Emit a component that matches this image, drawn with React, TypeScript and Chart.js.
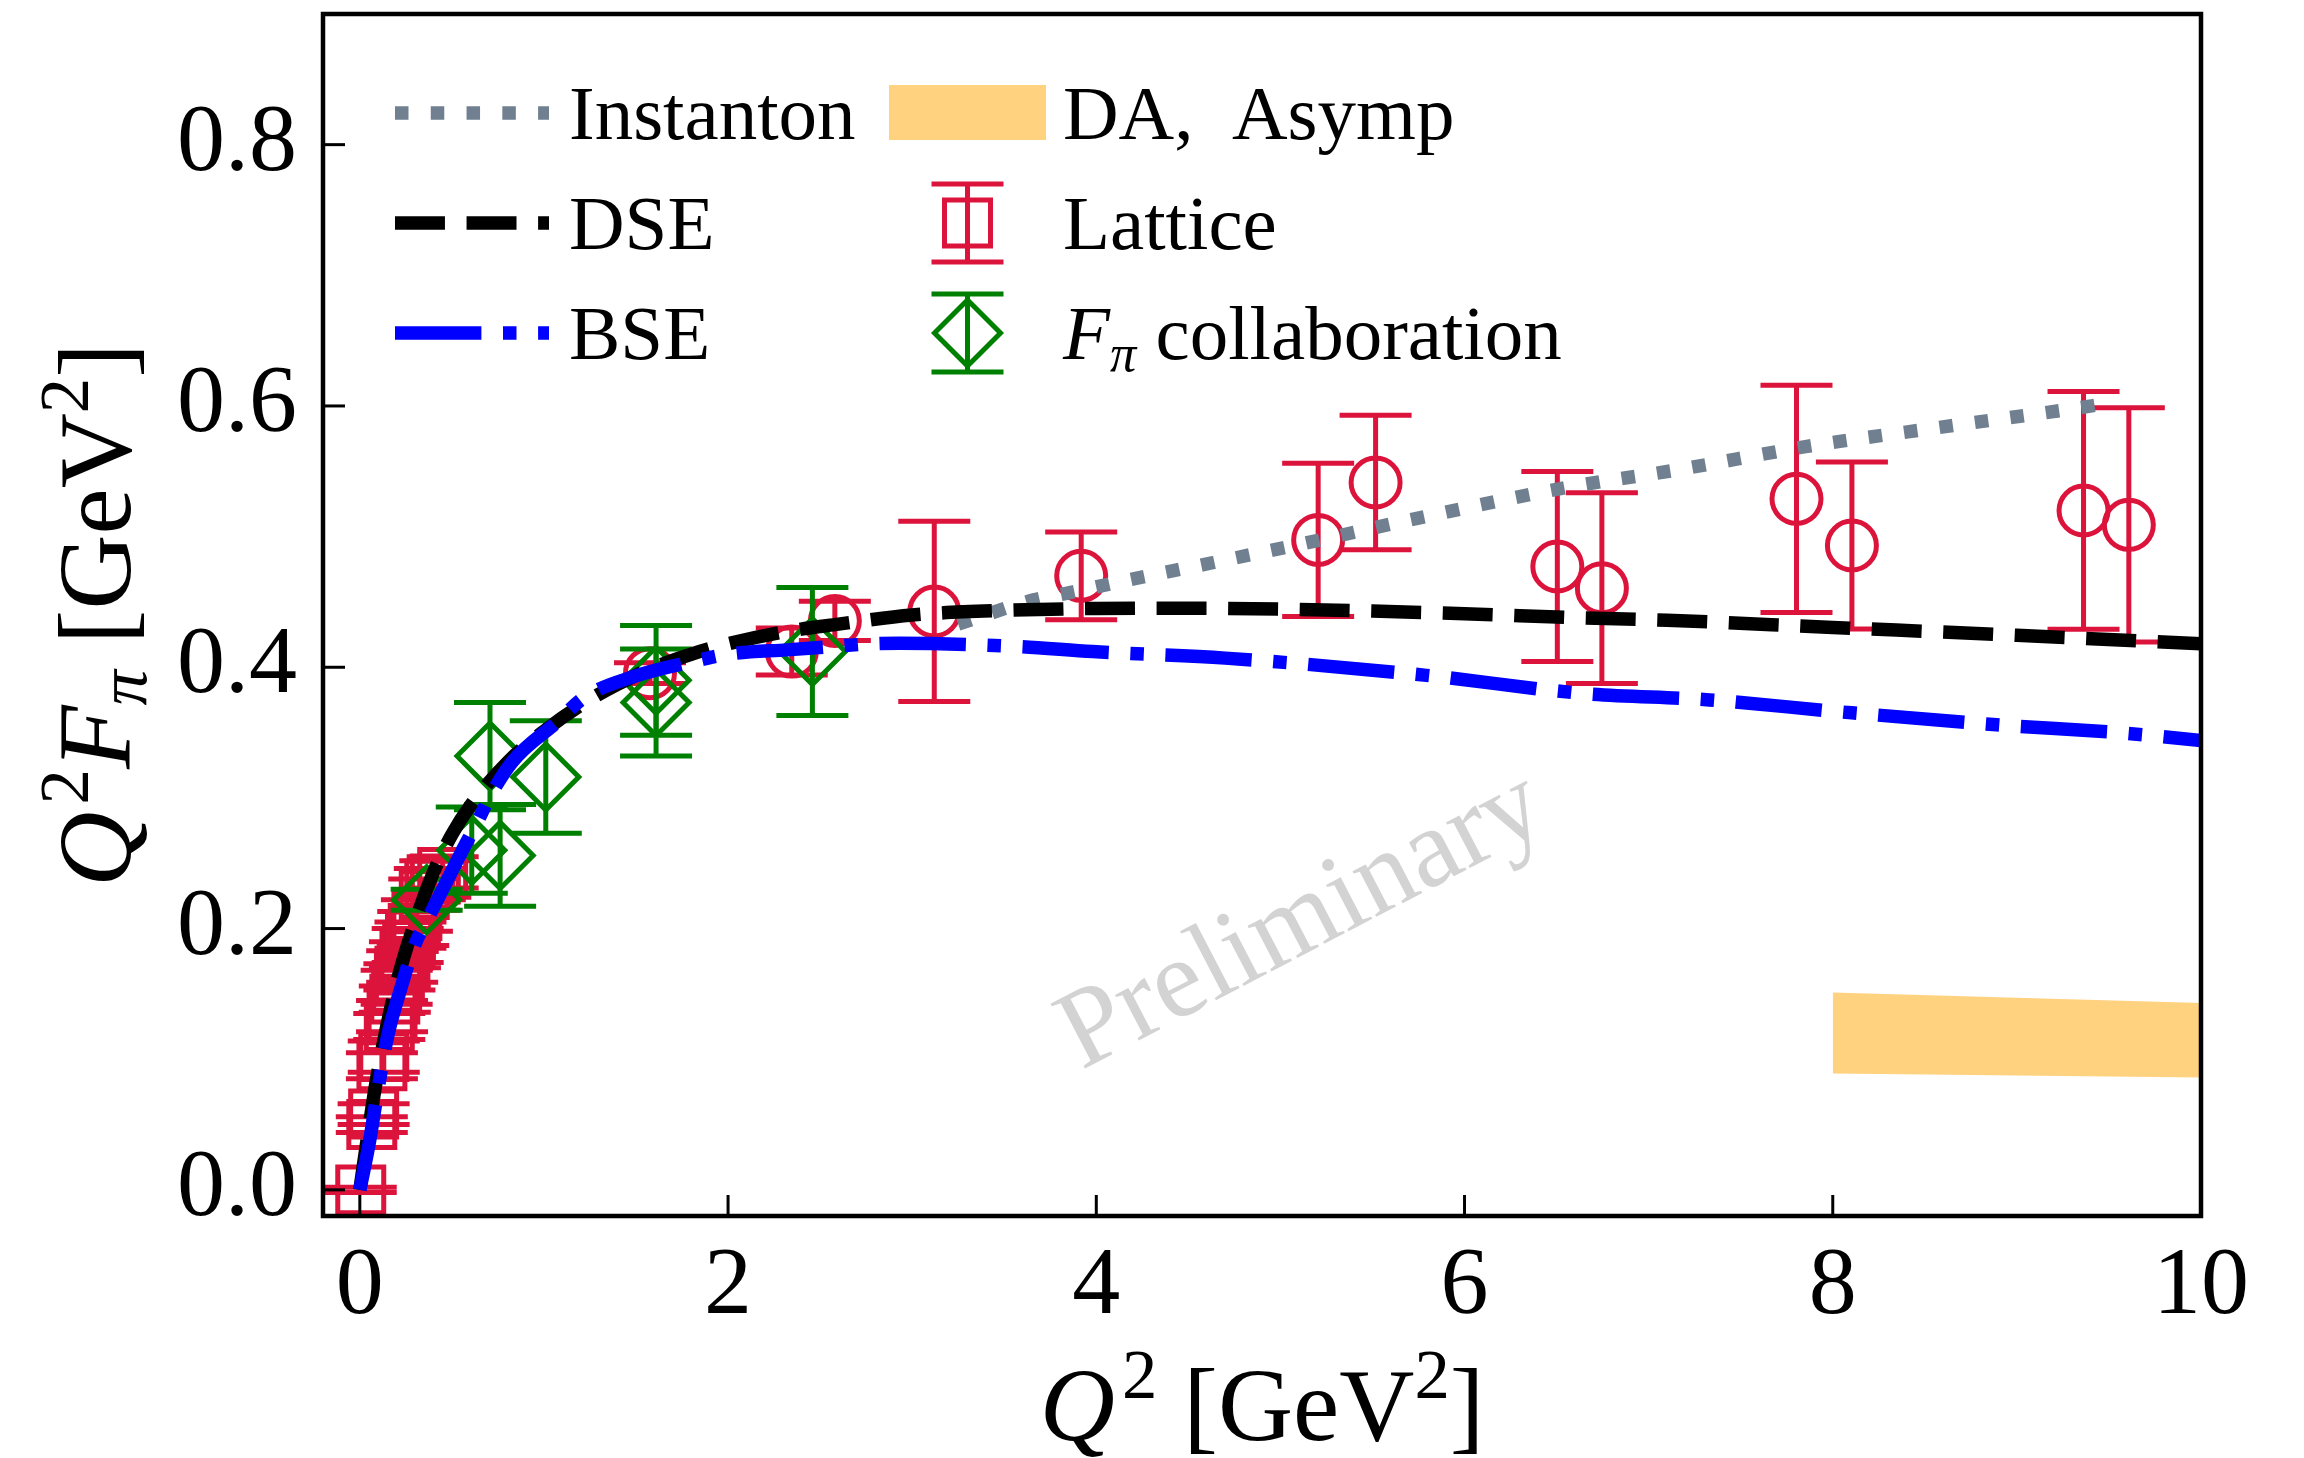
import React, { useEffect, useRef } from 'react';
import { Chart, registerables } from 'chart.js';

Chart.register(...registerables);

const SERIF = '"Liberation Serif", "Times New Roman", serif';

// ---- axes ----
const X_MIN = -0.2;
const X_MAX = 10;
const Y_MIN = -0.02;
const Y_MAX = 0.9;
const xTickValues = [0, 2, 4, 6, 8, 10];
const yTickValues = [0, 0.2, 0.4, 0.6, 0.8];

// ---- DSE curve ----
const dseQ2 = [0, 0.05, 0.1, 0.2, 0.3, 0.4, 0.5, 0.6, 0.8, 1.0, 1.2, 1.4, 1.6, 1.8, 2.0, 2.3, 2.6, 3.0, 3.5, 4.0, 4.5, 5.0, 5.5, 6.0, 6.6, 7.1, 8.0, 9.0, 10.0];
const dseVal = [0, 0.048, 0.092, 0.158, 0.205, 0.243, 0.272, 0.294, 0.327, 0.351, 0.371, 0.387, 0.4, 0.41, 0.418, 0.427, 0.433, 0.44, 0.4435, 0.445, 0.4452, 0.4445, 0.443, 0.441, 0.438, 0.436, 0.4305, 0.4245, 0.418];

// ---- BSE curve ----
const bseQ2 = [0, 0.05, 0.1, 0.15, 0.22, 0.3, 0.36, 0.45, 0.55, 0.64, 0.71, 0.83, 1.07, 1.22, 1.49, 1.85, 2.0, 2.32, 2.93, 3.57, 3.98, 4.7, 5.78, 6.64, 7.33, 8.03, 8.89, 9.59, 10];
const bseVal = [0, 0.035, 0.078, 0.117, 0.153, 0.188, 0.205, 0.23, 0.258, 0.282, 0.302, 0.328, 0.358, 0.377, 0.393, 0.4057, 0.41, 0.4133, 0.4184, 0.4159, 0.412, 0.407, 0.394, 0.38, 0.375, 0.366, 0.356, 0.3495, 0.344];

// ---- Instanton curve ----
const instQ2 = [3.25, 3.66, 3.85, 4.18, 4.63, 5.2, 5.71, 6.57, 7.15, 7.86, 8.6, 9.31, 9.45];
const instVal = [0.433, 0.4516, 0.457, 0.467, 0.48, 0.497, 0.513, 0.538, 0.551, 0.569, 0.584, 0.598, 0.601];

// ---- DA, Asymp band ----
const bandQ2 = [8, 10];
const bandUpper = [0.151, 0.143];
const bandLower = [0.089, 0.086];

// ---- Lattice (small Q^2, squares) ----
const latSqQ2 = [0.005, 0.065, 0.075, 0.12, 0.13, 0.16, 0.175, 0.19, 0.2, 0.215, 0.23, 0.245, 0.26, 0.275, 0.29, 0.31, 0.35, 0.38, 0.41, 0.45];
const latSqVal = [0.0, 0.05, 0.058, 0.095, 0.102, 0.125, 0.133, 0.146, 0.155, 0.163, 0.171, 0.18, 0.187, 0.195, 0.2, 0.21, 0.226, 0.234, 0.238, 0.243];
const latSqErr = [0.002, 0.006, 0.008, 0.01, 0.012, 0.01, 0.012, 0.01, 0.013, 0.01, 0.012, 0.01, 0.013, 0.01, 0.013, 0.012, 0.012, 0.012, 0.014, 0.012];

// ---- Lattice (large Q^2, circles) ----
const latCircQ2 = [1.576, 2.346, 2.58, 3.12, 3.918, 5.205, 5.517, 6.504, 6.746, 7.803, 8.104, 9.362, 9.608];
const latCircVal = [0.3955, 0.412, 0.4355, 0.4427, 0.47, 0.4975, 0.5414, 0.4771, 0.4605, 0.5289, 0.4932, 0.52, 0.509];
const latCircErr = [0.008, 0.018, 0.015, 0.069, 0.0336, 0.0586, 0.0514, 0.0727, 0.073, 0.087, 0.064, 0.091, 0.0897];

// ---- F_pi collaboration ----
const fpiQ2 = [0.363, 0.608, 0.707, 0.762, 1.01, 1.609, 1.609, 2.458];
const fpiVal = [0.222, 0.26, 0.332, 0.256, 0.316, 0.39, 0.373, 0.412];
const fpiErr = [0.008, 0.033, 0.041, 0.039, 0.043, 0.042, 0.041, 0.049];

// ---- watermark ----
const watermarkText = 'Preliminary';
const watermarkQ2 = 5.12;
const watermarkVal = 0.205;

// ---- legend labels ----
const legendInstanton = 'Instanton';
const legendDSE = 'DSE';
const legendBSE = 'BSE';
const legendDA = 'DA,  Asymp';
const legendLattice = 'Lattice';
const legendFpiRest = ' collaboration';

// ---- styles ----
const CRIMSON = '#DC143C';
const GREEN = '#008000';
const SLATE = '#708090';
const BLUE = '#0000FF';
const ORANGE_FILL = 'rgba(255,165,0,0.5)';
const LW = 13.5;
const DASH_DOT = [LW, LW * 1.65];
const DASH = [LW * 3.7, LW * 1.6];
const DASH_DOT_LINE = [LW * 6.4, LW * 1.6, LW, LW * 1.6];
const ERR_LW = 5;
const CAP = 36;
const MARKER_LW = 5;

const pts = (xs: number[], ys: number[]) => xs.map((x, i) => ({ x, y: ys[i] }));

type Run = { t: string; it?: boolean; s?: 'sup' | 'sub'; dx?: number };

function runFont(r: Run, size: number) {
  const sz = r.s ? size * 0.68 : size;
  return `${r.it ? 'italic ' : ''}${sz}px ${SERIF}`;
}
function measureRuns(ctx: CanvasRenderingContext2D, runs: Run[], size: number) {
  let w = 0;
  for (const r of runs) {
    ctx.font = runFont(r, size);
    w += ctx.measureText(r.t).width + (r.dx || 0) * size;
  }
  return w;
}
function drawRuns(ctx: CanvasRenderingContext2D, runs: Run[], size: number, x: number, y: number) {
  let cx = x;
  for (const r of runs) {
    ctx.font = runFont(r, size);
    cx += (r.dx || 0) * size;
    const dy = r.s === 'sup' ? -0.4 * size : r.s === 'sub' ? 0.15 * size : 0;
    ctx.fillText(r.t, cx, y + dy);
    cx += ctx.measureText(r.t).width;
  }
}

const xTitleRuns: Run[] = [{ t: 'Q', it: true }, { t: '2', s: 'sup', dx: 0.07 }, { t: ' [GeV' }, { t: '2', s: 'sup' }, { t: ']' }];
const yTitleRuns: Run[] = [
  { t: 'Q', it: true },
  { t: '2', s: 'sup', dx: 0.07 },
  { t: 'F', it: true },
  { t: 'π', it: true, s: 'sub' },
  { t: ' [GeV' },
  { t: '2', s: 'sup' },
  { t: ']' },
];
const fpiLegendRuns: Run[] = [{ t: 'F', it: true }, { t: 'π', it: true, s: 'sub' }, { t: legendFpiRest }];

const errorBarPlugin = {
  id: 'errbars',
  beforeDatasetDraw(chart: any, args: any) {
    const ds = chart.data.datasets[args.index];
    if (!ds.errors) return;
    const { ctx, chartArea: ca } = chart;
    const xs = chart.scales.x;
    const ys = chart.scales.y;
    ctx.save();
    ctx.beginPath();
    ctx.rect(ca.left, ca.top, ca.right - ca.left, ca.bottom - ca.top);
    ctx.clip();
    ctx.strokeStyle = ds.pointBorderColor;
    ctx.lineWidth = ERR_LW;
    ctx.lineCap = 'butt';
    ds.data.forEach((p: any, i: number) => {
      const e = ds.errors[i];
      const px = xs.getPixelForValue(p.x);
      const pt = ys.getPixelForValue(p.y + e);
      const pb = ys.getPixelForValue(p.y - e);
      ctx.beginPath();
      ctx.moveTo(px, pt);
      ctx.lineTo(px, pb);
      ctx.moveTo(px - CAP, pt);
      ctx.lineTo(px + CAP, pt);
      ctx.moveTo(px - CAP, pb);
      ctx.lineTo(px + CAP, pb);
      ctx.stroke();
    });
    ctx.restore();
  },
};

const watermarkPlugin = {
  id: 'watermark',
  beforeDatasetsDraw(chart: any) {
    const { ctx } = chart;
    const px = chart.scales.x.getPixelForValue(watermarkQ2);
    const py = chart.scales.y.getPixelForValue(watermarkVal);
    ctx.save();
    ctx.translate(px, py);
    ctx.rotate((-27.5 * Math.PI) / 180);
    ctx.font = `112px ${SERIF}`;
    ctx.fillStyle = '#d3d3d3';
    ctx.textAlign = 'center';
    ctx.textBaseline = 'middle';
    ctx.fillText(watermarkText, 0, 0);
    ctx.restore();
  },
};

const framePlugin = {
  id: 'frame',
  afterDatasetsDraw(chart: any) {
    const { ctx, chartArea: ca, scales } = chart;
    ctx.save();
    ctx.strokeStyle = '#000';
    ctx.lineWidth = 3;
    ctx.setLineDash([]);
    xTickValues.forEach((v) => {
      const px = scales.x.getPixelForValue(v);
      ctx.beginPath();
      ctx.moveTo(px, ca.bottom);
      ctx.lineTo(px, ca.bottom - 21);
      ctx.stroke();
    });
    yTickValues.forEach((v) => {
      const py = scales.y.getPixelForValue(v);
      ctx.beginPath();
      ctx.moveTo(ca.left, py);
      ctx.lineTo(ca.left + 22, py);
      ctx.stroke();
    });
    ctx.lineWidth = 4.5;
    ctx.strokeRect(ca.left, ca.top, ca.right - ca.left, ca.bottom - ca.top);
    ctx.restore();
  },
};

const titlesPlugin = {
  id: 'titles',
  afterDraw(chart: any) {
    const { ctx, chartArea: ca } = chart;
    const size = 104;
    ctx.save();
    ctx.fillStyle = '#000';
    ctx.textAlign = 'left';
    ctx.textBaseline = 'alphabetic';
    const wx = measureRuns(ctx, xTitleRuns, size);
    drawRuns(ctx, xTitleRuns, size, (ca.left + ca.right) / 2 - wx / 2, 1440);
    const wy = measureRuns(ctx, yTitleRuns, size);
    ctx.translate(130, (ca.top + ca.bottom) / 2);
    ctx.rotate(-Math.PI / 2);
    drawRuns(ctx, yTitleRuns, size, -wy / 2, 0);
    ctx.restore();
  },
};

const legendPlugin = {
  id: 'customLegend',
  afterDraw(chart: any) {
    const { ctx, chartArea: ca } = chart;
    const fs = 77;
    const rows = [ca.top + 99, ca.top + 209, ca.top + 319];
    const c1x0 = ca.left + 72;
    const c1x1 = ca.left + 226;
    const c1tx = ca.left + 246;
    const c2x0 = ca.left + 566;
    const c2x1 = ca.left + 723;
    const c2mx = ca.left + 644.5;
    const c2tx = ca.left + 740;
    ctx.save();
    ctx.lineCap = 'butt';
    const lineHandle = (y: number, color: string, dash: number[]) => {
      ctx.strokeStyle = color;
      ctx.lineWidth = LW;
      ctx.setLineDash(dash);
      ctx.beginPath();
      ctx.moveTo(c1x0, y);
      ctx.lineTo(c1x1, y);
      ctx.stroke();
    };
    lineHandle(rows[0], SLATE, DASH_DOT);
    lineHandle(rows[1], '#000', DASH);
    lineHandle(rows[2], BLUE, DASH_DOT_LINE);
    ctx.setLineDash([]);
    ctx.fillStyle = ORANGE_FILL;
    ctx.fillRect(c2x0, rows[0] - 28, c2x1 - c2x0, 55);
    const errHandle = (y: number, color: string, shape: 'sq' | 'dia') => {
      ctx.strokeStyle = color;
      ctx.lineWidth = ERR_LW;
      ctx.beginPath();
      ctx.moveTo(c2mx, y - 39);
      ctx.lineTo(c2mx, y + 39);
      ctx.moveTo(c2mx - CAP, y - 39);
      ctx.lineTo(c2mx + CAP, y - 39);
      ctx.moveTo(c2mx - CAP, y + 39);
      ctx.lineTo(c2mx + CAP, y + 39);
      ctx.stroke();
      ctx.lineWidth = MARKER_LW;
      ctx.beginPath();
      if (shape === 'sq') {
        ctx.rect(c2mx - 23, y - 23, 46, 46);
      } else {
        ctx.moveTo(c2mx - 33, y);
        ctx.lineTo(c2mx, y - 33);
        ctx.lineTo(c2mx + 33, y);
        ctx.lineTo(c2mx, y + 33);
        ctx.closePath();
      }
      ctx.stroke();
    };
    errHandle(rows[1], CRIMSON, 'sq');
    errHandle(rows[2], GREEN, 'dia');
    ctx.fillStyle = '#000';
    ctx.textAlign = 'left';
    ctx.textBaseline = 'alphabetic';
    ctx.font = `${fs}px ${SERIF}`;
    ctx.fillText(legendInstanton, c1tx, rows[0] + 26);
    ctx.fillText(legendDSE, c1tx, rows[1] + 26);
    ctx.fillText(legendBSE, c1tx, rows[2] + 26);
    ctx.fillText(legendDA, c2tx, rows[0] + 26);
    ctx.fillText(legendLattice, c2tx, rows[1] + 26);
    drawRuns(ctx, fpiLegendRuns, fs, c2tx, rows[2] + 26);
    ctx.restore();
  },
};

export default function App() {
  const ref = useRef<HTMLCanvasElement>(null);
  useEffect(() => {
    const lineBase = {
      type: 'line' as const,
      showLine: true,
      pointRadius: 0,
      pointHoverRadius: 0,
      borderWidth: LW,
      borderCapStyle: 'butt' as const,
      cubicInterpolationMode: 'monotone' as const,
      fill: false,
    };
    const chart = new Chart(ref.current!, {
      type: 'scatter',
      data: {
        datasets: [
          {
            type: 'line',
            label: 'DA upper',
            data: pts(bandQ2, bandUpper),
            showLine: true,
            pointRadius: 0,
            borderWidth: 0,
            borderColor: 'rgba(0,0,0,0)',
            backgroundColor: ORANGE_FILL,
            fill: '+1',
            order: 7,
          },
          {
            type: 'line',
            label: 'DA lower',
            data: pts(bandQ2, bandLower),
            showLine: true,
            pointRadius: 0,
            borderWidth: 0,
            borderColor: 'rgba(0,0,0,0)',
            backgroundColor: ORANGE_FILL,
            fill: false,
            order: 7,
          },
          {
            label: 'Lattice',
            data: pts(latSqQ2, latSqVal),
            errors: latSqErr,
            pointStyle: 'rect',
            pointRadius: 32.5,
            pointHoverRadius: 32.5,
            pointBorderWidth: MARKER_LW,
            pointBorderColor: CRIMSON,
            pointBackgroundColor: 'rgba(0,0,0,0)',
            order: 6,
          } as any,
          {
            label: 'Lattice circles',
            data: pts(latCircQ2, latCircVal),
            errors: latCircErr,
            pointStyle: 'circle',
            pointRadius: 24.5,
            pointHoverRadius: 24.5,
            pointBorderWidth: MARKER_LW,
            pointBorderColor: CRIMSON,
            pointBackgroundColor: 'rgba(0,0,0,0)',
            order: 5,
          } as any,
          {
            label: 'F_pi collaboration',
            data: pts(fpiQ2, fpiVal),
            errors: fpiErr,
            pointStyle: 'rectRot',
            pointRadius: 33,
            pointHoverRadius: 33,
            pointBorderWidth: MARKER_LW,
            pointBorderColor: GREEN,
            pointBackgroundColor: 'rgba(0,0,0,0)',
            order: 4,
          } as any,
          { ...lineBase, label: 'Instanton', data: pts(instQ2, instVal), borderColor: SLATE, borderDash: DASH_DOT, order: 3 },
          { ...lineBase, label: 'DSE', data: pts(dseQ2, dseVal), borderColor: '#000', borderDash: DASH, order: 2 },
          { ...lineBase, label: 'BSE', data: pts(bseQ2, bseVal), borderColor: BLUE, borderDash: DASH_DOT_LINE, order: 1 },
        ],
      },
      options: {
        responsive: false,
        animation: false,
        devicePixelRatio: 1,
        events: [],
        layout: { autoPadding: false, padding: { left: 0, top: 14, right: 103, bottom: 0 } },
        plugins: { legend: { display: false }, tooltip: { enabled: false } },
        scales: {
          x: {
            type: 'linear',
            min: X_MIN,
            max: X_MAX,
            afterFit: (s: any) => {
              s.height = 242;
              s.paddingLeft = 0;
              s.paddingRight = 0;
            },
            afterBuildTicks: (s: any) => {
              s.ticks = xTickValues.map((v) => ({ value: v }));
            },
            grid: { display: false, drawTicks: false },
            border: { display: false },
            ticks: {
              font: { family: SERIF, size: 96 },
              color: '#000',
              padding: 14,
              maxRotation: 0,
              autoSkip: false,
              callback: (v: any) => String(v),
            },
          },
          y: {
            type: 'linear',
            min: Y_MIN,
            max: Y_MAX,
            afterFit: (s: any) => {
              s.width = 323;
              s.paddingTop = 0;
              s.paddingBottom = 0;
            },
            afterBuildTicks: (s: any) => {
              s.ticks = yTickValues.map((v) => ({ value: v }));
            },
            grid: { display: false, drawTicks: false },
            border: { display: false },
            ticks: {
              font: { family: SERIF, size: 96 },
              color: '#000',
              padding: 26,
              autoSkip: false,
              callback: (v: any) => Number(v).toFixed(1),
            },
          },
        },
      },
      plugins: [errorBarPlugin, watermarkPlugin, framePlugin, titlesPlugin, legendPlugin],
    } as any);
    return () => chart.destroy();
  }, []);
  return (
    <div style={{ position: 'fixed', left: 0, top: 0, width: 2304, height: 1458, background: '#fff' }}>
      <canvas ref={ref} width={2304} height={1458} style={{ display: 'block', width: 2304, height: 1458 }} />
    </div>
  );
}
